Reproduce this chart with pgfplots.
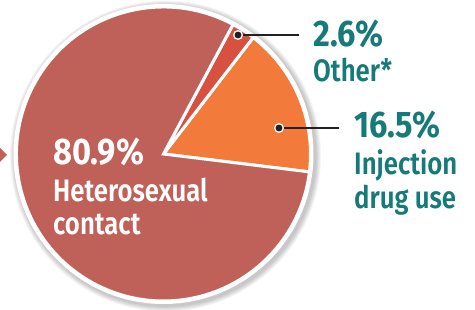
\documentclass[border=0pt]{standalone}
\usepackage{pgfplots}
\pgfplotsset{compat=1.18}
\usepackage{pgfplotstable}
\usepackage{fontspec}
\setmainfont{Fira Sans}
\newfontface\numfont{Fira Sans Bold}[FakeStretch=0.88]
\newfontface\labfont{Fira Sans SemiBold}[FakeStretch=0.83]
\definecolor{het}{HTML}{BF6158}
\definecolor{inj}{HTML}{F27A3A}
\definecolor{oth}{HTML}{D8503F}
\definecolor{tealtxt}{HTML}{167A78}
\definecolor{darkline}{HTML}{231F20}

\pgfplotstableread{
name value
inj 16.5
oth 2.6
het 80.9
}\piedata
\pgfplotstablegetelem{0}{value}\of\piedata \let\vinj\pgfplotsretval
\pgfplotstablegetelem{1}{value}\of\piedata \let\voth\pgfplotsretval
\pgfplotstablegetelem{2}{value}\of\piedata \let\vhet\pgfplotsretval
\pgfmathsetmacro{\aA}{-7}
\pgfmathsetmacro{\aB}{\aA+3.6*\vinj}
\pgfmathsetmacro{\aC}{\aB+3.6*\voth}
\pgfmathsetmacro{\aD}{\aC+3.6*\vhet}

\begin{document}
\begin{tikzpicture}
\begin{axis}[
  x=1pt, y=1pt, xmin=0, xmax=475, ymin=0, ymax=310,
  hide axis, clip=false, scale only axis,
]
% soft shadow
\pgfplotsinvokeforeach{1,...,6}{
  \fill[black, opacity=0.04] (axis cs:165.5,154) circle[radius={150pt+#1*0.9pt}];
}
\fill[white] (axis cs:163.5,156) circle[radius=150pt];
% wedges
\filldraw[fill=inj, draw=white, line width=3pt] (axis cs:163.5,156) -- ++(\aA:147pt) arc[start angle=\aA, end angle=\aB, radius=147pt] -- cycle;
\filldraw[fill=oth, draw=white, line width=3pt] (axis cs:163.5,156) -- ++(\aB:147pt) arc[start angle=\aB, end angle=\aC, radius=147pt] -- cycle;
\filldraw[fill=het, draw=white, line width=3pt] (axis cs:163.5,156) -- ++(\aC:147pt) arc[start angle=\aC, end angle=\aD, radius=147pt] -- cycle;
% left arrow
\addplot[fill=het, draw=none] coordinates {(0,162) (7,155) (0,148)} -- cycle;
% leader lines
\addplot[darkline, line width=2.8pt] coordinates {(238,275) (299,275)};
\addplot[darkline, line width=2.8pt] coordinates {(279,182) (339,182)};
\addplot[only marks, mark=*, mark size=4.3pt, mark options={fill=darkline, draw=white, line width=1.3pt}] coordinates {(238,275) (279,182)};
% labels
\node[anchor=base west, inner sep=0, text=white, font=\numfont\fontsize{37}{37}\selectfont] at (axis cs:53,145) {80.9\%};
\node[anchor=base west, inner sep=0, text=white, font=\labfont\fontsize{31}{31}\selectfont] at (axis cs:53,108) {Heterosexual};
\node[anchor=base west, inner sep=0, text=white, font=\labfont\fontsize{31}{31}\selectfont] at (axis cs:53,75) {contact};
\node[anchor=base west, inner sep=0, text=tealtxt, font=\numfont\fontsize{37}{37}\selectfont] at (axis cs:313,263) {2.6\%};
\node[anchor=base west, inner sep=0, text=tealtxt, font=\labfont\fontsize{31}{31}\selectfont] at (axis cs:313,228) {Other*};
\node[anchor=base west, inner sep=0, text=tealtxt, font=\numfont\fontsize{37}{37}\selectfont] at (axis cs:354,172) {16.5\%};
\node[anchor=base west, inner sep=0, text=tealtxt, font=\labfont\fontsize{31}{31}\selectfont] at (axis cs:354,135) {Injection};
\node[anchor=base west, inner sep=0, text=tealtxt, font=\labfont\fontsize{31}{31}\selectfont] at (axis cs:354,101) {drug use};
\end{axis}
\pgfresetboundingbox
\path (0,0) rectangle (475pt,310pt);
\end{tikzpicture}
\end{document}
